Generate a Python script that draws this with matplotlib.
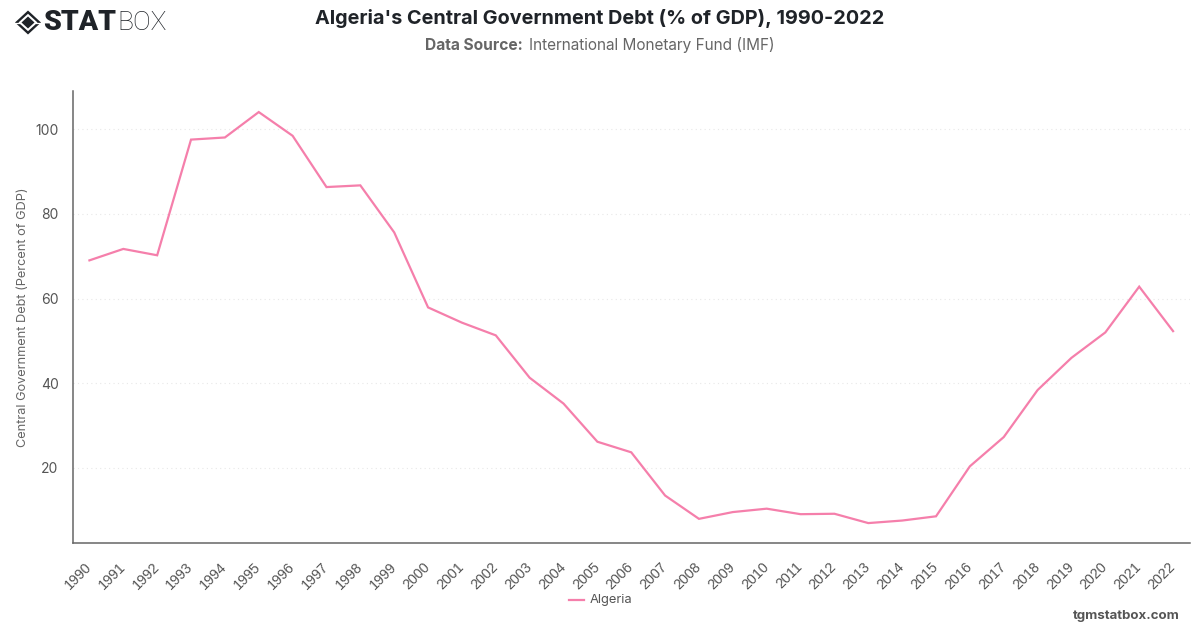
import matplotlib
matplotlib.use('Agg')
import matplotlib.pyplot as plt
from matplotlib.patches import Polygon
from matplotlib.transforms import ScaledTranslation

plt.rcParams['font.family'] = ['Inter', 'DejaVu Sans']

W, H = 1200, 628

years = list(range(1990, 2023))
debt = [69.0, 71.7, 70.2, 97.5, 98.0, 104.0, 98.4, 86.3, 86.7, 75.6, 57.9,
        54.3, 51.3, 41.3, 35.2, 26.2, 23.7, 13.5, 8.0, 9.6, 10.4, 9.1, 9.2,
        7.0, 7.6, 8.6, 20.4, 27.3, 38.4, 46.0, 52.0, 62.8, 52.3]
yticks = [20, 40, 60, 80, 100]

line_color = '#f57fab'
axis_color = '#666666'
text_color = '#555555'
dark = '#1f2328'


# helper for placing text in pixel coordinates, origin top-left
def put(x, y, s, **kw):
    fig.text(x / W, 1 - y / H, s, va='center', **kw)


def diamond(cx, cy, rx, ry, color=dark):
    pts = [(cx - rx, cy), (cx, cy - ry), (cx + rx, cy), (cx, cy + ry)]
    fig.add_artist(Polygon([(x / W, 1 - y / H) for x, y in pts], closed=True,
                           transform=fig.transFigure, fc=color, ec='none'))


fig = plt.figure(figsize=(W / 100, H / 100), dpi=100, facecolor='white')
left, right, top, bottom = 72.5, 1190, 91, 543
ax = fig.add_axes([left / W, 1 - bottom / H, (right - left) / W, (bottom - top) / H])

ax.plot(years, debt, color=line_color, lw=1.6, solid_joinstyle='miter', label='Algeria')

ax.set_xlim(1989.5, 2022.5)
ax.set_ylim(2.3, 108.97)
ax.set_xticks(years)
ax.set_xticklabels(years, rotation=45, ha='right', rotation_mode='anchor',
                   fontsize=10.3, family='Liberation Sans', color=text_color)
ax.set_yticks(yticks)
ax.tick_params(axis='y', length=0, pad=10, labelsize=10, labelcolor=text_color)
ax.tick_params(axis='x', length=0, pad=12)
# year labels sit a little left of their ticks
shift = ScaledTranslation(-5 / 100, 0, fig.dpi_scale_trans)
for lab in ax.get_xticklabels():
    lab.set_transform(lab.get_transform() + shift)
ax.grid(axis='y', color='#e8e8e8', lw=0.8, ls=(0, (1, 3)))
ax.set_axisbelow(True)
for side in ['top', 'right']:
    ax.spines[side].set_visible(False)
for side in ['left', 'bottom']:
    ax.spines[side].set_color(axis_color)
    ax.spines[side].set_linewidth(1.1)
ax.set_ylabel('Central Government Debt (Percent of GDP)', fontsize=9.2,
              color='#666666', labelpad=0)
ax.yaxis.set_label_coords((29 - left) / (right - left), (bottom - 317) / (bottom - top))

put(600, 18, "Algeria's Central Government Debt (% of GDP), 1990-2022", ha='center',
    fontsize=14.27, fontweight='bold', color=dark)
put(425, 45, 'Data Source:', ha='left', fontsize=11.2, fontweight='bold', color='#666666')
put(529, 45, 'International Monetary Fund (IMF)', ha='left', fontsize=11.06, color='#666666')

# legend below the axis
fig.add_artist(plt.Line2D([569 / W, 584 / W], [1 - 600 / H] * 2, color=line_color, lw=1.6))
put(590, 600, 'Algeria', ha='left', fontsize=9.3, color=text_color)

put(1180, 616, 'tgmstatbox.com', ha='right', fontsize=9.55, fontweight='bold', color='#555555')

# logo mark: dark ring with a diamond inside, slit at the side corners
diamond(28, 22.5, 13, 12)
diamond(28, 22.5, 9.5, 8.7, color='white')
diamond(28, 22.5, 6.5, 6)
fig.add_artist(plt.Line2D([14 / W, 20 / W], [1 - 22.5 / H] * 2, color='white', lw=0.9))
fig.add_artist(plt.Line2D([36 / W, 42 / W], [1 - 22.5 / H] * 2, color='white', lw=0.9))
put(43.5, 23, 'STAT', ha='left', fontsize=20.5, family='Roboto', fontweight='black', color=dark)
put(117, 23, 'BOX', ha='left', fontsize=19, family='Roboto', fontweight='light', color=dark)

fig.savefig('out.png', dpi=100)
